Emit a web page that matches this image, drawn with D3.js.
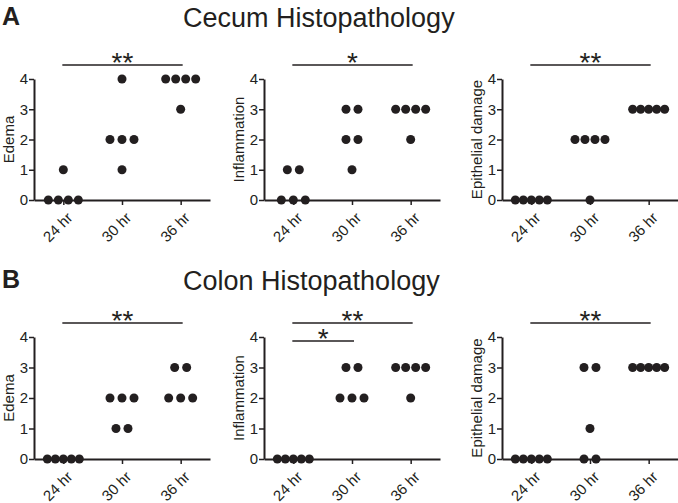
<!DOCTYPE html>
<html>
<head>
<meta charset="utf-8">
<script src="https://cdn.jsdelivr.net/npm/d3@7/dist/d3.min.js"></script>
<style>
    body { margin: 0; background: #fff; }
    svg { display: block; }
    text { font-family: "Liberation Sans", Arial, Helvetica, sans-serif; fill: #231f20; }
</style>
</head>
<body>
<div id="chart"></div>
<script>
'use strict';

const timepoints = ['24 hr', '30 hr', '36 hr'];
const scoreTicks = [0, 1, 2, 3, 4];

// scores per timepoint, one dot per animal
const cecumEdema = [[1, 0, 0, 0, 0], [4, 2, 2, 2, 1], [4, 4, 4, 4, 3]];
const cecumInflammation = [[1, 1, 0, 0, 0], [3, 3, 2, 2, 1], [3, 3, 3, 3, 2]];
const cecumEpithelial = [[0, 0, 0, 0, 0], [2, 2, 2, 2, 0], [3, 3, 3, 3, 3]];
const colonEdema = [[0, 0, 0, 0, 0], [2, 2, 2, 1, 1], [3, 3, 2, 2, 2]];
const colonInflammation = [[0, 0, 0, 0, 0], [3, 3, 2, 2, 2], [3, 3, 3, 3, 2]];
const colonEpithelial = [[0, 0, 0, 0, 0], [3, 3, 1, 0, 0], [3, 3, 3, 3, 3]];

// significance brackets, top one first
const cecumEdemaSig = [{ from: '24 hr', to: '36 hr', label: '**' }];
const cecumInflammationSig = [{ from: '24 hr', to: '36 hr', label: '*' }];
const cecumEpithelialSig = [{ from: '24 hr', to: '36 hr', label: '**' }];
const colonEdemaSig = [{ from: '24 hr', to: '36 hr', label: '**' }];
const colonInflammationSig = [{ from: '24 hr', to: '36 hr', label: '**' }, { from: '24 hr', to: '30 hr', label: '*' }];
const colonEpithelialSig = [{ from: '24 hr', to: '36 hr', label: '**' }];

const yLabels = ['Edema', 'Inflammation', 'Epithelial damage'];
const sections = [
    { letter: 'A', title: 'Cecum Histopathology', panels: [cecumEdema, cecumInflammation, cecumEpithelial], sig: [cecumEdemaSig, cecumInflammationSig, cecumEpithelialSig] },
    { letter: 'B', title: 'Colon Histopathology', panels: [colonEdema, colonInflammation, colonEpithelial], sig: [colonEdemaSig, colonInflammationSig, colonEpithelialSig] }
];

const W = 678, H = 503;
const ink = '#231f20';
const colX = [[34, 210], [264, 440], [502, 678]];
const rowY = [{ bottom: 200, top: 79, title: 27 }, { bottom: 459, top: 337, title: 290 }];

const svg = d3.select('#chart').append('svg')
    .attr('width', W)
    .attr('height', H);

function dotSpacing(n) {
    if (n >= 5) return 8;
    if (n === 4) return 10;
    return 12;
}

function drawPanel(g, data, sig, label, xr, yr) {
    var x = d3.scalePoint().domain(timepoints).range(xr).padding(0.5);
    var y = d3.scaleLinear().domain([0, 4]).range([yr.bottom, yr.top]);

    // x axis
    var xAxis = g.append('g')
        .attr('transform', `translate(0,${yr.bottom})`)
        .call(d3.axisBottom(x).tickSize(5).tickSizeOuter(0));
    xAxis.select('.domain').attr('stroke', ink).attr('stroke-width', 2);
    xAxis.selectAll('.tick line').attr('stroke', ink).attr('stroke-width', 1.5);
    xAxis.selectAll('.tick text')
        .attr('font-size', 15)
        .attr('text-anchor', 'end')
        .attr('x', 0).attr('y', 0).attr('dy', '0.35em')
        .attr('transform', 'translate(6,15) rotate(-45)');

    // y axis
    var yAxis = g.append('g')
        .attr('transform', `translate(${xr[0]},0)`)
        .call(d3.axisLeft(y).tickValues(scoreTicks).tickFormat(d3.format('d')).tickSize(5).tickSizeOuter(0).tickPadding(1));
    yAxis.select('.domain').attr('stroke', ink).attr('stroke-width', 2);
    yAxis.selectAll('.tick line').attr('stroke', ink).attr('stroke-width', 1.5);
    yAxis.selectAll('.tick text').attr('font-size', 15);

    g.append('text')
        .attr('transform', `translate(${xr[0] - 20},${(yr.bottom + yr.top) / 2}) rotate(-90)`)
        .attr('text-anchor', 'middle')
        .attr('font-size', 15)
        .text(label);

    // dots, spread sideways inside each score
    var dots = [];
    data.forEach((scores, i) => {
        var groups = d3.group(scores, (s) => s);
        groups.forEach((arr, score) => {
            var sp = dotSpacing(arr.length);
            arr.forEach((s, k) => {
                dots.push({ cx: x(timepoints[i]) + (k - (arr.length - 1) / 2) * sp, cy: y(score) });
            });
        });
    });
    g.append('g').selectAll('circle').data(dots).join('circle')
        .attr('cx', (d) => d.cx)
        .attr('cy', (d) => d.cy)
        .attr('r', 4.5)
        .attr('fill', ink);

    // significance brackets
    sig.forEach((b, i) => {
        var by = yr.top - 14 + i * 18;
        var x1 = x(b.from) - 1, x2 = x(b.to) + 2;
        g.append('line')
            .attr('x1', x1).attr('x2', x2)
            .attr('y1', by).attr('y2', by)
            .attr('stroke', ink).attr('stroke-width', 1.5);
        g.append('text')
            .attr('x', (x1 + x2) / 2)
            .attr('y', by + 7)
            .attr('text-anchor', 'middle')
            .attr('font-size', 28)
            .text(b.label);
    });
}

sections.forEach((sec, r) => {
    var yr = rowY[r];
    svg.append('text')
        .attr('x', 2).attr('y', yr.title - 2)
        .attr('font-size', 25).attr('font-weight', 'bold')
        .text(sec.letter);
    svg.append('text')
        .attr('x', 183).attr('y', yr.title)
        .attr('font-size', 27)
        .text(sec.title);

    sec.panels.forEach((data, c) => {
        drawPanel(svg.append('g'), data, sec.sig[c], yLabels[c], colX[c], yr);
    });
});
</script>
</body>
</html>
